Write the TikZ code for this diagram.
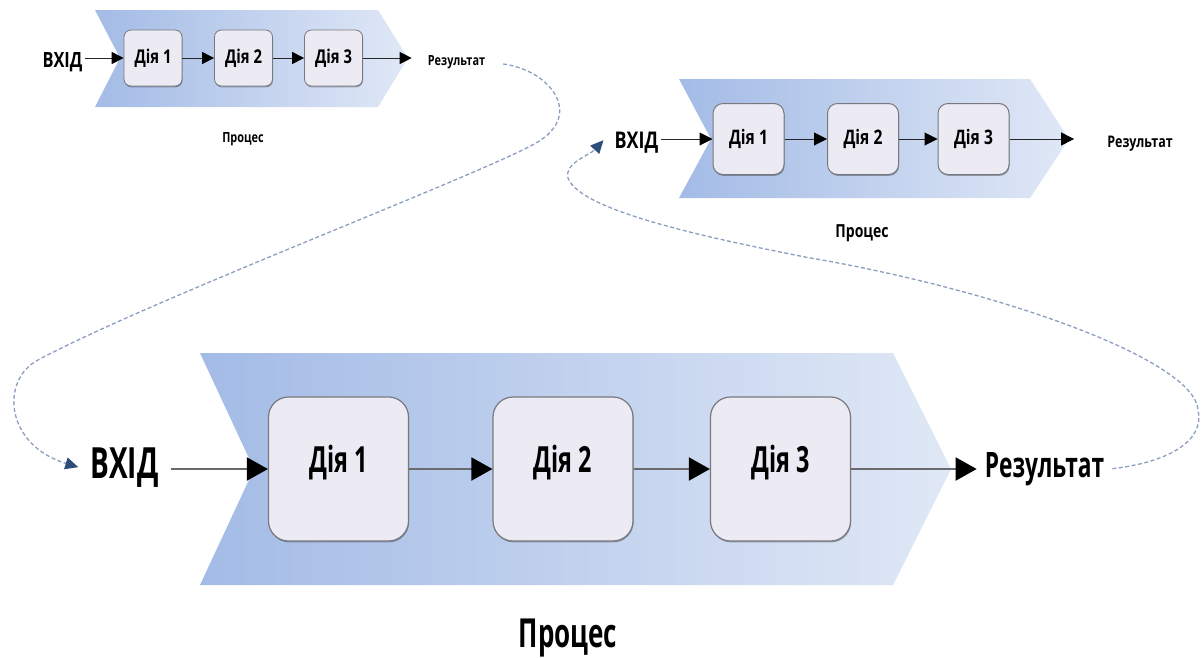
\documentclass[tikz,border=0pt]{standalone}
\usepackage{fontspec}
\setmainfont{Open Sans}
\newfontfamily\fbig{Open Sans}[FakeStretch=0.65]
\newfontfamily\fsm{Open Sans}[FakeStretch=0.78]
\usetikzlibrary{arrows.meta,shadows}

\definecolor{chevL}{RGB}{163,187,230}
\definecolor{chevR}{RGB}{224,232,246}
\definecolor{boxfill}{RGB}{236,234,242}
\definecolor{boxline}{RGB}{120,120,126}
\definecolor{flowline}{RGB}{105,105,110}
\definecolor{loopline}{RGB}{138,158,190}
\definecolor{looptip}{RGB}{45,78,120}

\begin{document}
\begin{tikzpicture}[x=1pt,y=-1pt,
  chev/.style={left color=chevL,right color=chevR},
  actbox/.style={draw=boxline,fill=boxfill,
    drop shadow={shadow xshift=0.6pt,shadow yshift=-1.4pt,opacity=0.3,fill=black}},
  sbox/.style={actbox,line width=0.8pt,rounded corners=7pt,minimum width=58pt,minimum height=56pt,
    font=\fsm\fontsize{19}{22}\selectfont\bfseries},
  mbox/.style={actbox,line width=1pt,rounded corners=10pt,minimum width=71pt,minimum height=71pt,
    font=\fsm\fontsize{20}{24}\selectfont\bfseries},
  bbox/.style={actbox,line width=1.2pt,rounded corners=20pt,minimum width=140pt,minimum height=144pt,
    text height=26pt,text depth=20pt,
    font=\fbig\fontsize{36}{40}\selectfont\bfseries},
  lbl/.style={anchor=base,inner sep=0pt,text=black},
  sflow/.style={draw=black!85,line width=1pt,-{Triangle[length=12pt,width=12pt,color=black]}},
  mflow/.style={draw=black!85,line width=1pt,-{Triangle[length=13pt,width=13pt,color=black]}},
  bflow/.style={draw=flowline,line width=2pt,-{Triangle[length=21pt,width=23pt,color=black]}},
  loopy/.style={draw=loopline,line width=1.3pt,dash pattern=on 4pt off 2.5pt,
    -{Triangle[length=13pt,width=12pt,color=looptip]}}
]
\useasboundingbox (0,0) rectangle (1201,657);

% chevron bands
\shade[chev] (95,10) -- (378,10) -- (408,58) -- (378,107) -- (95,107) -- (120,58) -- cycle;
\shade[chev] (679,79) -- (1030,79) -- (1069,139) -- (1030,198) -- (679,198) -- (711,139) -- cycle;
\shade[chev] (200,353) -- (893,353) -- (951,469) -- (893,585) -- (200,585) -- (254,469) -- cycle;

% small process
\node[sbox] (s1) at (153,58) {Дія 1};
\node[sbox] (s2) at (243.5,58) {Дія 2};
\node[sbox] (s3) at (333.5,58) {Дія 3};
\node[lbl,font=\fsm\fontsize{21}{24}\selectfont\bfseries] (sin) at (62.5,67) {ВХІД};
\node[lbl,font=\fsm\fontsize{14}{16}\selectfont\bfseries] (sout) at (456.5,65) {Результат};
\node[lbl,font=\fsm\fontsize{14}{16}\selectfont\bfseries] (sproc) at (243,142) {Процес};

\draw[sflow,shorten <=2pt] (sin.east |- s1.west) -- (s1.west);
\draw[sflow] (s1) -- (s2);
\draw[sflow] (s2) -- (s3);
\draw[sflow,shorten >=16pt] (s3.east) -- (s3.east -| sout.west);

% medium process
\node[mbox] (m1) at (748.5,139) {Дія 1};
\node[mbox] (m2) at (863,139) {Дія 2};
\node[mbox] (m3) at (973.5,139) {Дія 3};
\node[lbl,font=\fsm\fontsize{23}{26}\selectfont\bfseries] (min) at (636.5,148) {ВХІД};
\node[lbl,font=\fsm\fontsize{16}{18}\selectfont\bfseries] (mout) at (1140,147) {Результат};
\node[lbl,font=\fsm\fontsize{18}{20}\selectfont\bfseries] (mproc) at (862,237) {Процес};

\draw[mflow,shorten <=2pt] (min.east |- m1.west) -- (m1.west);
\draw[mflow] (m1) -- (m2);
\draw[mflow] (m2) -- (m3);
\draw[mflow,shorten >=33pt] (m3.east) -- (m3.east -| mout.west);

% large process
\node[bbox] (b1) at (338.5,469) {Дія 1};
\node[bbox] (b2) at (563,469) {Дія 2};
\node[bbox] (b3) at (780.5,469) {Дія 3};
\node[lbl,inner xsep=12pt,font=\fbig\fontsize{43}{48}\selectfont\bfseries] (bin) at (124.5,478) {ВХІД};
\node[lbl,inner xsep=8pt,font=\fbig\fontsize{35}{40}\selectfont\bfseries] (bout) at (1044.5,477) {Результат};
\node[lbl,font=\fbig\fontsize{40}{46}\selectfont\bfseries] (bproc) at (568,647) {Процес};

\draw[bflow] (bin.east |- b1.west) -- (b1.west);
\draw[bflow] (b1) -- (b2);
\draw[bflow] (b2) -- (b3);
\draw[bflow] (b3.east) -- (b3.east -| bout.west);

% feedback loops
\draw[loopy,shorten <=18pt] (sout.east) .. controls (550,70) and (585,115) .. (536,143)
  .. controls (480,175) and (150,300) .. (38,360)
  .. controls (0,380) and (5,445) .. (bin.west);
\draw[loopy] (bout.east) .. controls (1170,462) and (1205,440) .. (1198,410)
  .. controls (1195,360) and (1000,290) .. (805,257)
  .. controls (720,240) and (580,212) .. (568,178)
  .. controls (564,163) and (590,155) .. ([shift={(-11,-2)}]min.west);
\end{tikzpicture}
\end{document}
